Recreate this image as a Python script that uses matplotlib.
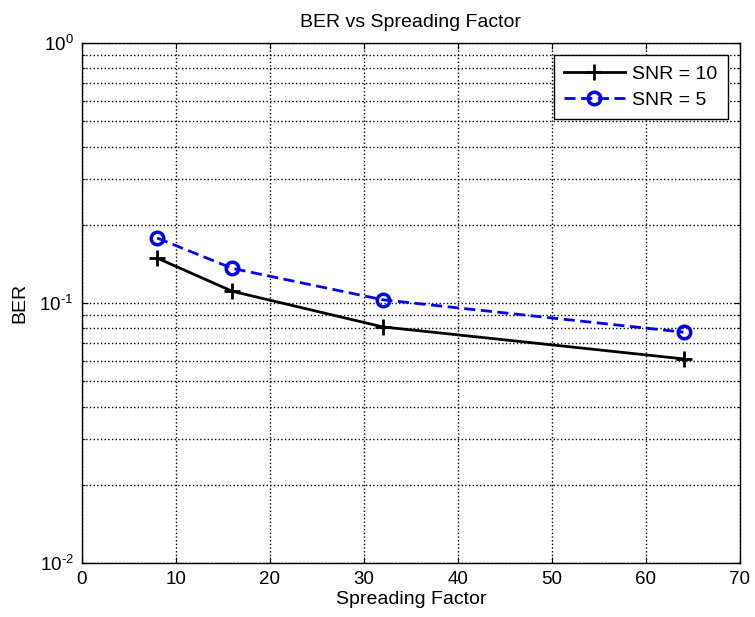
import matplotlib
matplotlib.use("Agg")
import matplotlib.pyplot as plt
from matplotlib.ticker import LogLocator, NullFormatter, FuncFormatter
import numpy as np

plt.rcParams['font.family'] = ['Liberation Sans', 'DejaVu Sans']
plt.rcParams['mathtext.fontset'] = 'custom'
plt.rcParams['mathtext.rm'] = 'Liberation Sans'
plt.rcParams['mathtext.it'] = 'Liberation Sans'

# spreading factors and BER
sf = [8, 16, 32, 64]
ber_snr10 = [0.149, 0.111, 0.081, 0.061]
ber_snr5 = [0.178, 0.136, 0.103, 0.0773]

fs = 14


def matlab_pow(v, pos):
    # MATLAB style 10^-n with a plain hyphen
    e = int(round(np.log10(v)))
    s = str(e).replace('-', '\u2010')
    return r'$10^{%s}$' % s


fig = plt.figure(figsize=(7.55, 6.17), dpi=100)
ax = fig.add_axes([0.1086, 0.0875, 0.8714, 0.8425])

ax.semilogy(sf, ber_snr10, color='black', lw=2, marker='+', ms=12, mew=2,
            label='SNR = 10')
ax.semilogy(sf, ber_snr5, color='blue', lw=2, ls='--', dashes=(4, 2),
            marker='o', ms=9, mew=2.5, mfc='none', label='SNR = 5')

ax.set_xlim(0, 70)
ax.set_ylim(1e-2, 1e0)
ax.set_xticks(range(0, 71, 10))
ax.yaxis.set_major_locator(LogLocator(base=10, numticks=10))
ax.yaxis.set_major_formatter(FuncFormatter(matlab_pow))
ax.yaxis.set_minor_locator(LogLocator(base=10, subs=range(2, 10), numticks=10))
ax.yaxis.set_minor_formatter(NullFormatter())

ax.grid(True, which='both', color='black', ls=':', lw=1)
ax.tick_params(which='both', direction='in', top=True, right=True,
               labelsize=13.5, length=4, pad=6)
ax.tick_params(which='minor', length=2)
for s in ax.spines.values():
    s.set_linewidth(1)

ax.set_title('BER vs Spreading Factor', fontsize=fs, pad=12)
ax.set_xlabel('Spreading Factor', fontsize=fs, labelpad=2)
ax.set_ylabel('BER', fontsize=fs, labelpad=8)

leg = ax.legend(loc='upper right', fontsize=fs, fancybox=False,
                edgecolor='black', framealpha=1, handlelength=3.1,
                borderaxespad=0.6, borderpad=0.55, labelspacing=0.4,
                handletextpad=0.4)
leg.get_frame().set_linewidth(1)

fig.savefig('out.png', dpi=100)
